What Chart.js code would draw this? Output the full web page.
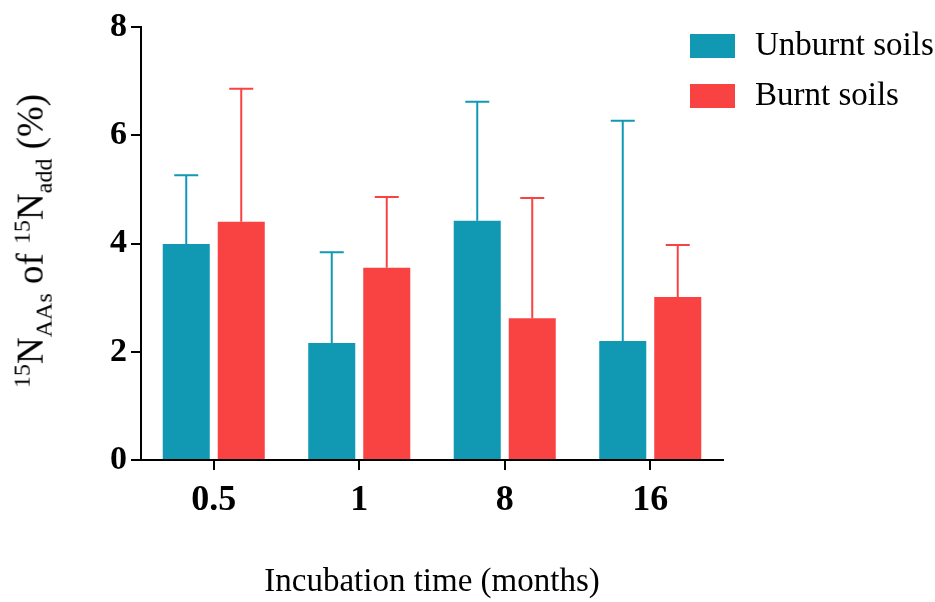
<!DOCTYPE html>
<html>
<head>
<meta charset="utf-8">
<script src="https://cdn.jsdelivr.net/npm/chart.js@4"></script>
<style>
  body { margin: 0; background: #fff; }
  #wrap { position: relative; width: 935px; height: 602px; }
  #yTitle {
    position: absolute; left: 33px; top: 241px;
    transform: translate(-50%, -50%) rotate(-90deg);
    font-family: "Liberation Serif", serif; font-size: 37px; white-space: nowrap; color: #000;
  }
  #yTitle sup, #yTitle sub { font-size: 24px; }
  .legend { position: absolute; left: 690px; font-family: "Liberation Serif", serif; font-size: 33px; color: #000; }
  .legend span.box { position: absolute; left: 0; width: 45px; height: 24px; }
  .legend span.lbl { position: absolute; left: 65px; top: -8px; white-space: nowrap; }
</style>
</head>
<body>
<div id="wrap">
  <canvas id="chart" width="935" height="602"></canvas>
  <div id="yTitle"><sup>15</sup>N<sub>AAs</sub> of <sup>15</sup>N<sub>add</sub> (%)</div>
  <div class="legend" style="top:34px"><span class="box" style="background:#1199b3"></span><span class="lbl">Unburnt soils</span></div>
  <div class="legend" style="top:84px"><span class="box" style="background:#f94343"></span><span class="lbl">Burnt soils</span></div>
</div>
<script>
const months = ['0.5', '1', '8', '16'];
const unburnt = [3.99, 2.16, 4.42, 2.20];
const unburntErr = [1.27, 1.68, 2.20, 4.07];
const burnt = [4.40, 3.55, 2.62, 3.01];
const burntErr = [2.46, 1.31, 2.22, 0.96];
const yTicks = [0, 2, 4, 6, 8];

const teal = '#1199b3';
const red = '#f94343';

// upward error bars with caps, same colour as the bar
const errorBars = {
    id: 'errorBars',
    afterDatasetsDraw(chart) {
        const ctx = chart.ctx;
        const y = chart.scales.y;
        chart.data.datasets.forEach((ds, i) => {
            const meta = chart.getDatasetMeta(i);
            meta.data.forEach((bar, j) => {
                const top = y.getPixelForValue(ds.data[j] + ds.errors[j]);
                ctx.save();
                ctx.strokeStyle = ds.backgroundColor;
                ctx.lineWidth = 2;
                ctx.beginPath();
                ctx.moveTo(bar.x, bar.y);
                ctx.lineTo(bar.x, top);
                ctx.moveTo(bar.x - 12, top);
                ctx.lineTo(bar.x + 12, top);
                ctx.stroke();
                ctx.restore();
            });
        });
    }
};

const ctx = document.getElementById('chart').getContext('2d');
new Chart(ctx, {
    type: 'bar',
    data: {
        labels: months,
        datasets: [
            { label: 'Unburnt soils', data: unburnt, errors: unburntErr, backgroundColor: teal },
            { label: 'Burnt soils', data: burnt, errors: burntErr, backgroundColor: red },
        ],
    },
    options: {
        responsive: false,
        animation: false,
        layout: { padding: { left: 0, right: 212, top: 27, bottom: 0 } },
        categoryPercentage: 0.756,
        barPercentage: 0.855,
        plugins: { legend: { display: false }, tooltip: { enabled: false } },
        scales: {
            x: {
                grid: { display: true, drawOnChartArea: false, offset: false, tickLength: 10, color: '#000', lineWidth: 2 },
                border: { color: '#000', width: 2 },
                ticks: { color: '#000', padding: 9, font: { family: 'Liberation Serif', size: 36, weight: 'bold' } },
                title: { display: true, text: 'Incubation time (months)', color: '#000', padding: { bottom: 0 },
                         font: { family: 'Liberation Serif', size: 33 } },
                afterFit(scale) { scale.height = 142; },
            },
            y: {
                min: 0, max: 8,
                afterBuildTicks(scale) { scale.ticks = yTicks.map(v => ({ value: v })); },
                grid: { display: true, drawOnChartArea: false, tickLength: 10, color: '#000', lineWidth: 2 },
                border: { color: '#000', width: 2 },
                ticks: { color: '#000', padding: 4, font: { family: 'Liberation Serif', size: 34, weight: 'bold' } },
                afterFit(scale) { scale.width = 141; },
            },
        },
    },
    plugins: [errorBars],
});
</script>
</body>
</html>
